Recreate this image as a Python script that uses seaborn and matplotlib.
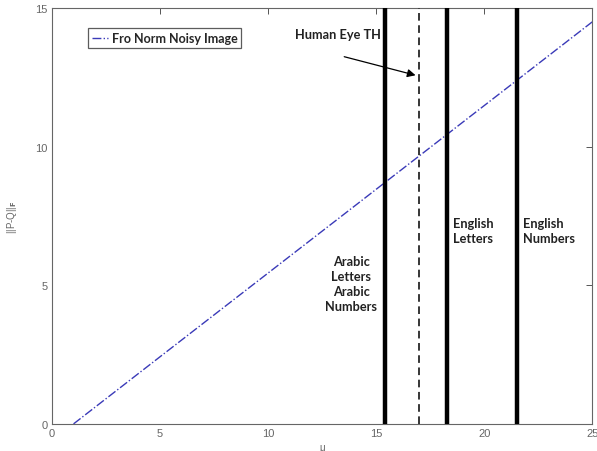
import matplotlib
matplotlib.use("Agg")
import matplotlib.pyplot as plt
import seaborn as sns

# -- Data -----------------------------------------------------------------------
MU        = [1, 5, 10, 15, 20, 25]
FRO_NORM  = [0.0, 2.42, 5.44, 8.46, 11.48, 14.5]
THRESH    = [15.4, 18.3, 21.5]        # thick solid boundaries
HUMAN_EYE = 17.0                       # dashed threshold
X_TICKS   = [0, 5, 10, 15, 20, 25]
Y_TICKS   = [0, 5, 10, 15]

# -- Style ----------------------------------------------------------------------
sns.set_theme(style="white")
plt.rcParams["font.family"] = ["Liberation Sans", "DejaVu Sans"]
TXT = dict(family=["Lato", "DejaVu Sans"], fontweight="bold", fontsize=9.2, color="#222222")

fig = plt.figure(figsize=(5.97, 4.52), dpi=100)
ax = fig.add_axes([0.087, 0.060, 0.905, 0.920])

sns.lineplot(x=MU, y=FRO_NORM, ax=ax, color="#3a3ab8", linestyle="-.", linewidth=1.0,
             label="Fro Norm Noisy Image")

for x in THRESH:
    ax.axvline(x, color="black", linewidth=3.2, zorder=3)
ax.axvline(HUMAN_EYE, color="black", linewidth=1.1, linestyle=(0, (5, 3)), zorder=3)

ax.set_xlim(0, 25)
ax.set_ylim(0, 15)
ax.set_xticks(X_TICKS)
ax.set_yticks(Y_TICKS)
ax.tick_params(direction="in", length=4, width=0.7, colors="#555555", labelsize=8,
               top=True, right=True, pad=3)
ax.tick_params(axis="x", labelcolor="#666666")
ax.tick_params(axis="y", labelcolor="#666666")
for s in ax.spines.values():
    s.set_color("#666666")
    s.set_linewidth(0.8)

ax.set_xlabel("\u03bc", fontsize=7, color="#666666", labelpad=3)
ax.set_ylabel("||P-Q||$_{\\mathbf{F}}$", fontsize=7, color="#666666", labelpad=12)

# annotations
ax.text(13.85, 5.05, "Arabic\nLetters\nArabic\nNumbers", ha="center", va="center",
        linespacing=1.3, **TXT)
ax.text(18.55, 6.96, "English\nLetters", ha="left", va="center", linespacing=1.3, **TXT)
ax.text(21.8, 6.96, "English\nNumbers", ha="left", va="center", linespacing=1.3, **TXT)
ax.text(11.25, 14.06, "Human Eye TH", ha="left", va="center", **TXT)
ax.annotate("", xy=(16.95, 12.55), xytext=(13.4, 13.27),
            arrowprops=dict(arrowstyle="-|>", color="black", lw=0.9, mutation_scale=12))

leg = ax.legend(loc="upper left", bbox_to_anchor=(0.062, 0.957), frameon=True,
                fancybox=False, handlelength=1.3, handletextpad=0.3, borderpad=0.3,
                borderaxespad=0.2,
                prop={"family": ["Lato", "DejaVu Sans"], "weight": "bold", "size": 9})
leg.get_frame().set_edgecolor("#333333")
leg.get_frame().set_linewidth(0.9)

fig.savefig("out.png", dpi=100)
